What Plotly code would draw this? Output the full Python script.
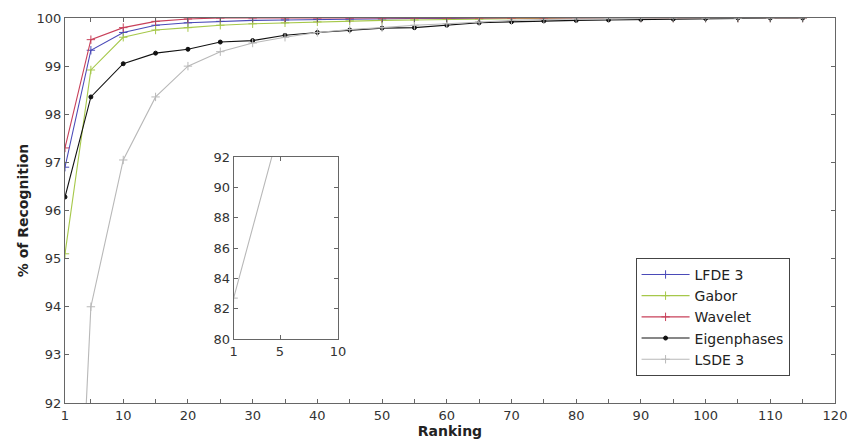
import plotly.graph_objects as go

ranking = [1, 5, 10, 15, 20, 25, 30, 35, 40, 45, 50, 55, 60, 65, 70, 75, 80, 85, 90, 95, 100, 105, 110, 115]

lfde3 = [96.9, 99.33, 99.7, 99.85, 99.9, 99.93, 99.95, 99.96, 99.97, 99.98, 99.98, 99.99, 99.99, 100, 100, 100, 100, 100, 100, 100, 100, 100, 100, 100]
gabor = [95.1, 98.92, 99.6, 99.75, 99.8, 99.85, 99.88, 99.9, 99.92, 99.94, 99.95, 99.96, 99.97, 99.98, 99.99, 100, 100, 100, 100, 100, 100, 100, 100, 100]
wavelet = [97.3, 99.55, 99.8, 99.93, 99.98, 100, 100, 100, 100, 100, 100, 100, 100, 100, 100, 100, 100, 100, 100, 100, 100, 100, 100, 100]
eigen = [96.28, 98.36, 99.05, 99.27, 99.35, 99.5, 99.53, 99.64, 99.7, 99.75, 99.79, 99.8, 99.85, 99.9, 99.92, 99.94, 99.95, 99.96, 99.97, 99.98, 99.99, 100, 100, 100]
lsde3 = [82.7, 94.0, 97.05, 98.36, 99.0, 99.3, 99.48, 99.6, 99.7, 99.76, 99.8, 99.85, 99.88, 99.92, 99.95, 99.97, 99.98, 99.99, 100, 100, 100, 100, 100, 100]

series_names = ["LFDE 3", "Gabor", "Wavelet", "Eigenphases", "LSDE 3"]
series_values = [lfde3, gabor, wavelet, eigen, lsde3]
colors = ["#4a4ab8", "#a6c84a", "#c8405a", "#111111", "#b8b8b8"]
symbols = ["cross-thin-open", "cross-thin-open", "cross-thin-open", "circle", "cross-thin-open"]

x_ticks_main = list(range(5, 121, 5))
x_tickvals = [1] + x_ticks_main
x_ticktext = ["1"] + [str(v) if v % 10 == 0 else "" for v in x_ticks_main]
y_ticks_main = [92, 93, 94, 95, 96, 97, 98, 99, 100]
inset_x_ticks = [1, 5, 10]
inset_y_ticks = [80, 82, 84, 86, 88, 90, 92]

FONT = "DejaVu Sans, Liberation Sans, Arial"

fig = go.Figure()
for axes, show in (("main", True), ("inset", False)):
    for name, vals, col, sym in zip(series_names, series_values, colors, symbols):
        fig.add_trace(go.Scatter(
            x=ranking, y=vals, name=name, mode="lines+markers", showlegend=show,
            line=dict(color=col, width=1.1),
            marker=dict(symbol=sym, size=4 if sym == "circle" else 6, color=col,
                        line=dict(color=col, width=1)),
            xaxis="x" if axes == "main" else "x2",
            yaxis="y" if axes == "main" else "y2"))

axis_common = dict(showgrid=False, zeroline=False, showline=True, linecolor="#666666",
                   linewidth=1, ticks="inside", tickcolor="#666666", ticklen=4,
                   mirror="ticks", automargin=False, ticklabeloverflow="allow",
                   tickfont=dict(family=FONT, size=13, color="#333333"))

fig.update_layout(
    width=850, height=444,
    margin=dict(l=65, r=15, t=18, b=41),
    paper_bgcolor="white", plot_bgcolor="white",
    font=dict(family=FONT, color="#222222"),
    xaxis=dict(range=[1, 120], tickvals=x_tickvals, ticktext=x_ticktext,
               title=dict(text="<b>Ranking</b>", font=dict(size=14, color="#222222"), standoff=0),
               domain=[0, 1], **axis_common),
    yaxis=dict(range=[92, 100], tickvals=y_ticks_main,
               title=dict(text="<b>% of Recognition</b>", font=dict(size=14, color="#222222"), standoff=4),
               domain=[0, 1], **axis_common),
    xaxis2=dict(range=[1, 10], tickvals=inset_x_ticks, domain=[0.2190, 0.3545],
                anchor="y2", **axis_common),
    yaxis2=dict(range=[80, 92], tickvals=inset_y_ticks, domain=[0.166, 0.639],
                anchor="x2", **axis_common),
    legend=dict(x=0.741, y=0.377, xanchor="left", yanchor="top",
                bgcolor="white", bordercolor="#444444", borderwidth=1,
                font=dict(family=FONT, size=14, color="#222222"),
                tracegroupgap=0, itemwidth=48),
    showlegend=True,
)

fig.write_html("out.html")
